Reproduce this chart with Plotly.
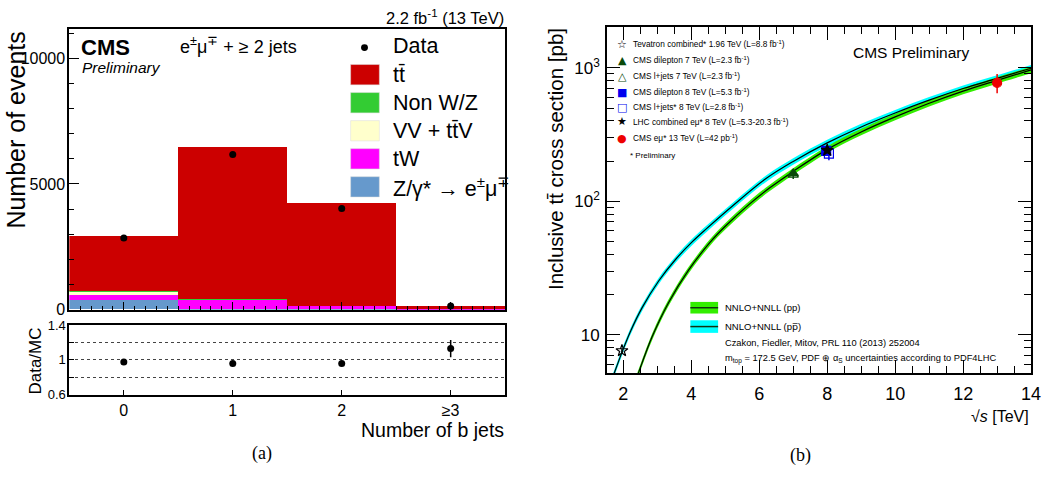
import plotly.graph_objects as go

W, H = 1052, 484

# ---------------- data: left panel (b-jet multiplicity) ----------------
nb_pos = [0, 1, 2, 3]
nb_labels = ["0", "1", "2", "\u22653"]
z_dy = [385, 15, 5, 2]
tw = [180, 370, 132, 25]
vv_ttv = [142, 20, 7, 4]
non_wz = [39, 18, 6, 2]
ttbar = [2190, 6027, 4080, 100]
data_counts = [2846, 6165, 4027, 150]
data_err = [54, 79, 63, 12]
ratio_vals = [0.975, 0.96, 0.96, 1.13]
ratio_err = [0.02, 0.015, 0.017, 0.10]

# ---------------- data: right panel (cross section vs sqrt(s)) ----------------
pp_sqrts = [2.35, 2.44, 2.85, 3.33, 3.92, 4.55, 5.0, 5.71, 6.3, 7.0, 8.0, 9.0, 10.0, 11.0, 12.0, 13.0, 14.0]
pp_xsec = [4.42, 5.13, 9.69, 17.4, 30.5, 49.2, 65.0, 95.3, 125.7, 167.5, 245.0, 331.0, 429.0, 543.0, 670.0, 806.0, 965.0]
ppbar_sqrts = [1.65, 1.73, 1.96, 2.2, 2.55, 3.04, 3.53, 4.01, 4.45, 5.23, 6.2, 7.0, 8.0, 9.0, 10.0, 11.0, 12.0, 13.0, 14.0]
ppbar_xsec = [4.5, 5.13, 7.38, 10.45, 15.9, 25.3, 36.5, 49.2, 62.4, 93.0, 148.0, 199.0, 274.0, 361.0, 459.0, 573.0, 700.0, 834.0, 994.0]
band_rel_unc = 0.055

meas_names = ["Tevatron combined* 1.96 TeV (L=8.8 fb<sup>-1</sup>)",
              "CMS dilepton 7 TeV (L=2.3 fb<sup>-1</sup>)",
              "CMS l+jets 7 TeV (L=2.3 fb<sup>-1</sup>)",
              "CMS dilepton 8 TeV (L=5.3 fb<sup>-1</sup>)",
              "CMS l+jets* 8 TeV (L=2.8 fb<sup>-1</sup>)",
              "LHC combined e\u03bc* 8 TeV (L=5.3-20.3 fb<sup>-1</sup>)",
              "CMS e\u03bc* 13 TeV (L=42 pb<sup>-1</sup>)"]
meas_sqrts = [1.96, 7.0, 7.0, 7.97, 8.05, 8.0, 13.0]
meas_xsec = [7.6, 162.0, 158.0, 239.0, 228.0, 241.5, 772.0]
meas_err = [0.41, 7.0, 11.0, 13.0, 25.0, 8.5, 127.0]
meas_symbol = ["star-open", "triangle-up", "triangle-up-open", "square", "square-open", "star", "circle"]
meas_color = ["black", "#0a4a0a", "#0a4a0a", "#0000ee", "#0000ee", "black", "#ee0000"]
meas_glyph = ["\u2606", "\u25b2", "\u25b3", "\u25a0", "\u25a1", "\u2605", "\u25cf"]

FONT = "Liberation Sans, Arial, Helvetica, sans-serif"
SERIF = "Liberation Serif, Times New Roman, serif"


def px(x):
    return x / W


def py(y):
    return 1 - y / H


fig = go.Figure()

# stacked histogram
stack = [("Z", z_dy, "#6699cc"), ("tW", tw, "#ff00ff"), ("VV", vv_ttv, "#ffffcc"),
         ("NonWZ", non_wz, "#33cc33"), ("tt", ttbar, "#cc0000")]
for name, vals, col in stack:
    fig.add_trace(go.Bar(x=nb_pos, y=vals, name=name, marker=dict(color=col, line=dict(width=0)),
                         width=1.0, xaxis="x", yaxis="y", showlegend=False))

fig.add_trace(go.Scatter(x=nb_pos, y=data_counts, mode="markers",
                         error_y=dict(type="data", array=data_err, color="black", thickness=1.5, width=0),
                         marker=dict(color="black", size=7), xaxis="x", yaxis="y", showlegend=False))

fig.add_trace(go.Scatter(x=nb_pos, y=ratio_vals, mode="markers",
                         error_y=dict(type="data", array=ratio_err, color="black", thickness=1.5, width=0),
                         marker=dict(color="black", size=7), xaxis="x2", yaxis="y2", showlegend=False))

# theory bands
for xs, ys, col in [(ppbar_sqrts, ppbar_xsec, "#00ffff"), (pp_sqrts, pp_xsec, "#33ee00")]:
    lo = [v * (1 - band_rel_unc) for v in ys]
    hi = [v * (1 + band_rel_unc) for v in ys]
    fig.add_trace(go.Scatter(x=xs, y=lo, mode="lines", line=dict(width=0, shape="spline"),
                             xaxis="x3", yaxis="y3", showlegend=False, hoverinfo="skip"))
    fig.add_trace(go.Scatter(x=xs, y=hi, mode="lines", line=dict(width=0, shape="spline"), fill="tonexty",
                             fillcolor=col, xaxis="x3", yaxis="y3", showlegend=False, hoverinfo="skip"))
for xs, ys in [(ppbar_sqrts, ppbar_xsec), (pp_sqrts, pp_xsec)]:
    fig.add_trace(go.Scatter(x=xs, y=ys, mode="lines", line=dict(color="black", width=1.2, shape="spline"),
                             xaxis="x3", yaxis="y3", showlegend=False))

for i in range(len(meas_sqrts)):
    fig.add_trace(go.Scatter(x=[meas_sqrts[i]], y=[meas_xsec[i]], mode="markers",
                             marker=dict(symbol=meas_symbol[i], color=meas_color[i], size=9,
                                         line=dict(color=meas_color[i], width=1.2)),
                             error_y=dict(type="data", array=[meas_err[i]], color=meas_color[i],
                                          thickness=1.5, width=0),
                             xaxis="x3", yaxis="y3", showlegend=False))

axis_common = dict(showline=True, linecolor="black", linewidth=2, mirror=True, ticks="inside",
                   tickcolor="black", showgrid=False, zeroline=False)

L0, L1 = px(70), px(510)
R0, R1 = px(613), px(1041)

fig.update_layout(
    width=W, height=H, autosize=False, margin=dict(l=0, r=0, t=0, b=0),
    paper_bgcolor="white", plot_bgcolor="white", barmode="stack", bargap=0,
    font=dict(family=FONT, color="black"),
    xaxis=dict(domain=[L0, L1], range=[-0.5, 3.5], anchor="y", tickvals=nb_pos, showticklabels=False,
               ticklen=8, minor=dict(ticks="inside", dtick=0.1, tick0=0, ticklen=4, tickcolor="black"),
               **axis_common),
    yaxis=dict(domain=[py(313), py(23)], range=[0, 11150], anchor="x", tickvals=[0, 5000, 10000],
               ticktext=["0", "5000", "10000"], ticklen=10, tickfont=dict(size=16), ticklabelstandoff=-1,
               minor=dict(ticks="inside", dtick=1000, ticklen=5, tickcolor="black"), **axis_common),
    xaxis2=dict(domain=[L0, L1], range=[-0.5, 3.5], anchor="y2", tickvals=nb_pos, ticktext=nb_labels,
                ticklen=5, tickfont=dict(size=16), ticklabelstandoff=0, **axis_common),
    yaxis2=dict(domain=[py(401), py(329)], range=[0.6, 1.4], anchor="x2",
                tickvals=[0.6, 0.8, 1.0, 1.2, 1.4], ticktext=["0.6", "", "1", "", "1.4"], ticklen=5,
                tickfont=dict(size=13), ticklabelstandoff=-1,
                **{**axis_common, "showgrid": True}, gridcolor="#444444", griddash="dot", gridwidth=1),
    xaxis3=dict(domain=[R0, R1], range=[1.525, 14], anchor="y3", tickvals=list(range(2, 15, 2)),
                ticklen=13, tickfont=dict(size=18), ticklabelstandoff=3,
                minor=dict(ticks="inside", dtick=0.5, tick0=0, ticklen=7, tickcolor="black"),
                **{**axis_common, "mirror": "ticks"}),
    yaxis3=dict(domain=[py(379), py(21)], type="log", range=[0.710, 3.304], anchor="x3",
                tickvals=[10, 100, 1000], ticktext=["10", "10<sup>2</sup>", "10<sup>3</sup>"],
                ticklen=13, tickfont=dict(size=17), ticklabelstandoff=2,
                minor=dict(ticks="inside", ticklen=7, tickcolor="black",
                           tickvals=[6, 7, 8, 9, 20, 30, 40, 50, 60, 70, 80, 90,
                                     200, 300, 400, 500, 600, 700, 800, 900, 2000]),
                **{**axis_common, "mirror": "ticks"}),
)

ann = []


def text(x, y, s, size, xanchor="left", yanchor="middle", family=FONT, angle=0, color="black"):
    ann.append(dict(x=px(x), y=py(y), xref="paper", yref="paper", text=s, showarrow=False,
                    xanchor=xanchor, yanchor=yanchor, textangle=angle,
                    font=dict(size=size, family=family, color=color)))


# left panel texts
text(511, 10, "2.2 fb<sup>-1</sup> (13 TeV)", 16.5, xanchor="right")
text(80, 42, "<b>CMS</b>", 22)
text(81, 63, "<i>Preliminary</i>", 15.5)
text(180, 40, "e<sup>\u00b1</sup>\u03bc<sup>\u2213</sup> + \u2265 2 jets", 18)
text(16, 23, "Number of events", 25, xanchor="center", yanchor="top", angle=-90)
text(36, 366, "Data/MC", 17, xanchor="center", angle=-90)
text(511, 437, "Number of b jets", 19.5, xanchor="right")
text(265, 462, "(a)", 18, xanchor="center", family=SERIF)

leg_y = [70, 99, 128, 157, 186]
leg_txt = ["tt\u0304", "Non W/Z", "VV + tt\u0304V", "tW", "Z/\u03b3* \u2192 e<sup>\u00b1</sup>\u03bc<sup>\u2213</sup>"]
leg_col = ["#cc0000", "#33cc33", "#ffffcc", "#ff00ff", "#6699cc"]
text(395, 40, "Data", 21.5)
shapes = [dict(type="circle", xref="paper", yref="paper", x0=px(364.5), x1=px(371.5), y0=py(45.5), y1=py(38.5),
               fillcolor="black", line=dict(width=0))]
for yy, t, c in zip(leg_y, leg_txt, leg_col):
    shapes.append(dict(type="rect", xref="paper", yref="paper", x0=px(354), x1=px(383), y0=py(yy + 10.5),
                       y1=py(yy - 10.5), fillcolor=c, line=dict(color="#dddddd", width=0.5)))
    text(395, yy, t, 21.5)

# right panel texts
text(561, 20, "Inclusive tt\u0304 cross section [pb]", 20.5, xanchor="center", yanchor="top", angle=-90)
text(1041, 423, "\u221a<i>s</i> [TeV]", 16, xanchor="right")
text(920, 47, "CMS Preliminary", 15.5, xanchor="center")
text(808, 464, "(b)", 18, xanchor="center", family=SERIF)

meas_y = [38.3, 55, 71.7, 88.3, 103.5, 118.5, 135.5]
for yy, g, c, t in zip(meas_y, meas_glyph, meas_color, meas_names):
    text(628, yy, g, 11, xanchor="center", family="DejaVu Sans", color=c)
    text(637, yy, t, 8.3)
text(634, 154, "* Preliminary", 8)

for (y0, y1, c, t) in [(305, 317, "#33ee00", "NNLO+NNLL (pp)"),
                       (324, 337, "#00ffff", "NNLO+NNLL (p<span style='font-family:DejaVu Sans'>p\u0305</span>)")]:
    shapes.append(dict(type="rect", xref="paper", yref="paper", x0=px(697), x1=px(725), y0=py(y1), y1=py(y0),
                       fillcolor=c, line=dict(width=0)))
    shapes.append(dict(type="line", xref="paper", yref="paper", x0=px(697), x1=px(725), y0=py((y0 + y1) / 2),
                       y1=py((y0 + y1) / 2), line=dict(color="#113311", width=1.5)))
    text(730, (y0 + y1) / 2, t, 9.5)
text(730, 348, "Czakon, Fiedler, Mitov, PRL 110 (2013) 252004", 9.3)
text(730, 364, "m<sub>top</sub> = 172.5 GeV, PDF \u2295 \u03b1<sub>S</sub> uncertainties according to PDF4LHC", 9.3)

fig.update_layout(annotations=ann, shapes=shapes)
fig.write_html("out.html", config={"displayModeBar": False},
               post_script="document.body.style.margin='0px';document.body.style.padding='0px';")
